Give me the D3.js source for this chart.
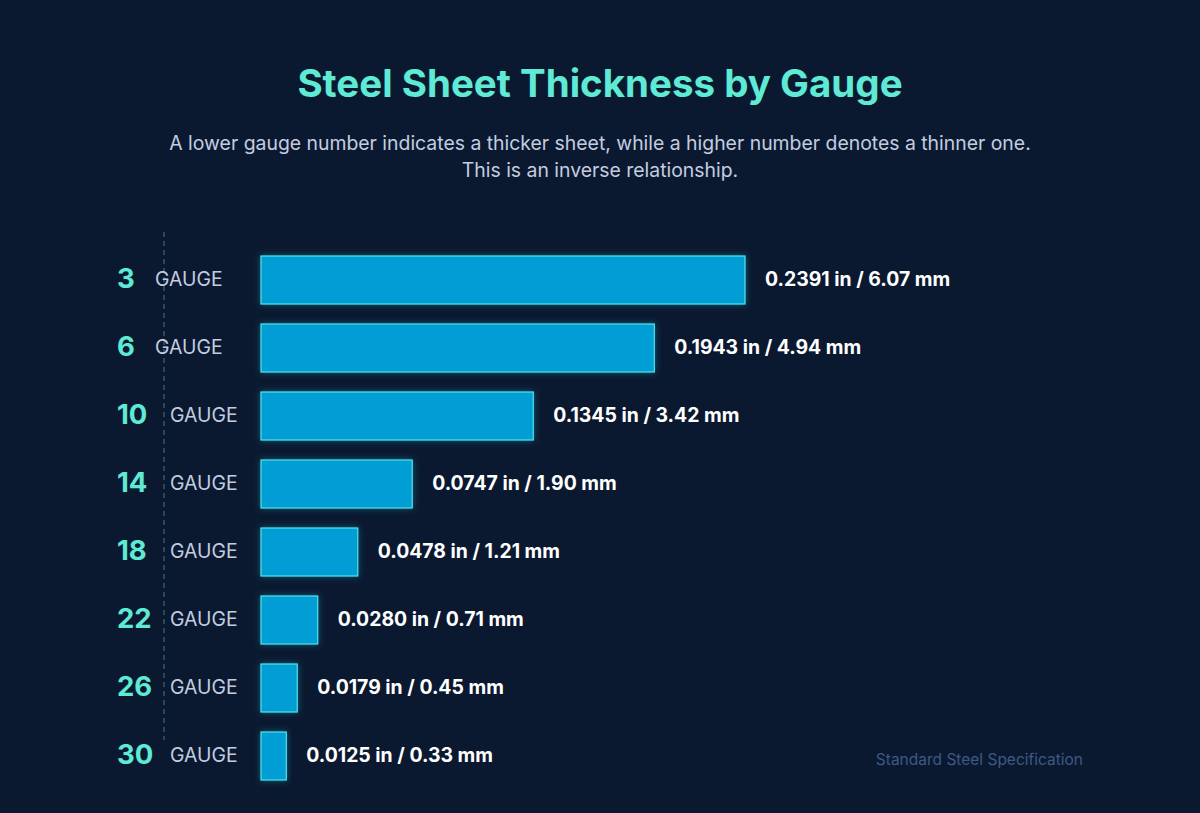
<!DOCTYPE html>
<html>
<head>
<meta charset="utf-8">
<script src="https://cdn.jsdelivr.net/npm/d3@7"></script>
<style>
  html, body { margin: 0; padding: 0; background: #0b1930; }
  svg { display: block; }
</style>
</head>
<body>
<div id="chart"></div>
<script>
// Data
const gauges = [3, 6, 10, 14, 18, 22, 26, 30];
const inches = [0.2391, 0.1943, 0.1345, 0.0747, 0.0478, 0.0280, 0.0179, 0.0125];
const millimetres = ['6.07', '4.94', '3.42', '1.90', '1.21', '0.71', '0.45', '0.33'];

const rows = gauges.map((g, i) => ({gauge: g, inch: inches[i], mm: millimetres[i]}));

const width = 1200;
const height = 813;

const svg = d3.select('#chart').append('svg')
    .attr('width', width)
    .attr('height', height)
    .attr('font-family', 'Inter, "Noto Sans", sans-serif');

svg.append('rect')
    .attr('width', width)
    .attr('height', height)
    .attr('fill', '#0b1930');

// glow for the bars
const defs = svg.append('defs');
const glow = defs.append('filter')
    .attr('id', 'glow')
    .attr('x', '-20%').attr('y', '-40%')
    .attr('width', '140%').attr('height', '180%');
glow.append('feGaussianBlur')
    .attr('in', 'SourceAlpha')
    .attr('stdDeviation', 3)
    .attr('result', 'blur');
glow.append('feFlood').attr('flood-color', '#22d3ee').attr('flood-opacity', 0.4);
glow.append('feComposite').attr('in2', 'blur').attr('operator', 'in').attr('result', 'shadow');
const merge = glow.append('feMerge');
merge.append('feMergeNode').attr('in', 'shadow');
merge.append('feMergeNode').attr('in', 'SourceGraphic');

// Title
svg.append('text')
    .attr('x', width / 2)
    .attr('y', 97)
    .attr('text-anchor', 'middle')
    .attr('font-size', 38.5)
    .attr('font-weight', 700)
    .attr('fill', '#5eead4')
    .text('Steel Sheet Thickness by Gauge');

// Subtitle
const sub = svg.append('text')
    .attr('text-anchor', 'middle')
    .attr('font-size', 19.4)
    .attr('fill', '#c3cde0');
sub.append('tspan')
    .attr('x', width / 2).attr('y', 150)
    .text('A lower gauge number indicates a thicker sheet, while a higher number denotes a thinner one.');
sub.append('tspan')
    .attr('x', width / 2).attr('y', 177)
    .text('This is an inverse relationship.');

// Scales
const x = d3.scaleLinear()
    .domain([0, d3.max(inches)])
    .range([261, 745]);

const y = d3.scaleBand()
    .domain(gauges)
    .range([246, 790])
    .paddingInner(0.294)
    .paddingOuter(0.147);

// dashed guide line
svg.append('line')
    .attr('x1', 164).attr('x2', 164)
    .attr('y1', 232).attr('y2', 740)
    .attr('stroke', '#4a7480')
    .attr('stroke-width', 1)
    .attr('stroke-dasharray', '5,4');

const row = svg.append('g').selectAll('g.row')
    .data(rows).enter()
    .append('g')
    .attr('class', 'row');

// Bars
row.append('rect')
    .attr('x', x(0))
    .attr('y', d => y(d.gauge))
    .attr('width', d => x(d.inch) - x(0))
    .attr('height', y.bandwidth())
    .attr('fill', '#049ed5')
    .attr('stroke', '#4fe3ee')
    .attr('stroke-width', 1.2)
    .attr('filter', 'url(#glow)');

// Gauge numbers
row.append('text')
    .attr('x', 117)
    .attr('y', d => y(d.gauge) + y.bandwidth() / 2 + 8)
    .attr('font-size', 27.5)
    .attr('font-weight', 700)
    .attr('fill', '#5eead4')
    .text(d => d.gauge);

// GAUGE word
row.append('text')
    .attr('x', d => d.gauge < 10 ? 155 : 170)
    .attr('y', d => y(d.gauge) + y.bandwidth() / 2 + 6)
    .attr('font-size', 19.4)
    .attr('fill', '#c3cde0')
    .text('GAUGE');

// Value labels
row.append('text')
    .attr('x', d => x(d.inch) + 20)
    .attr('y', d => y(d.gauge) + y.bandwidth() / 2 + 6)
    .attr('font-size', 19.4)
    .attr('font-weight', 700)
    .attr('fill', '#ffffff')
    .text(d => `${d.inch.toFixed(4)} in / ${d.mm} mm`);

// Footer
svg.append('text')
    .attr('x', 1083)
    .attr('y', 765)
    .attr('text-anchor', 'end')
    .attr('font-size', 15.5)
    .attr('fill', '#3d5a85')
    .text('Standard Steel Specification');
</script>
</body>
</html>
